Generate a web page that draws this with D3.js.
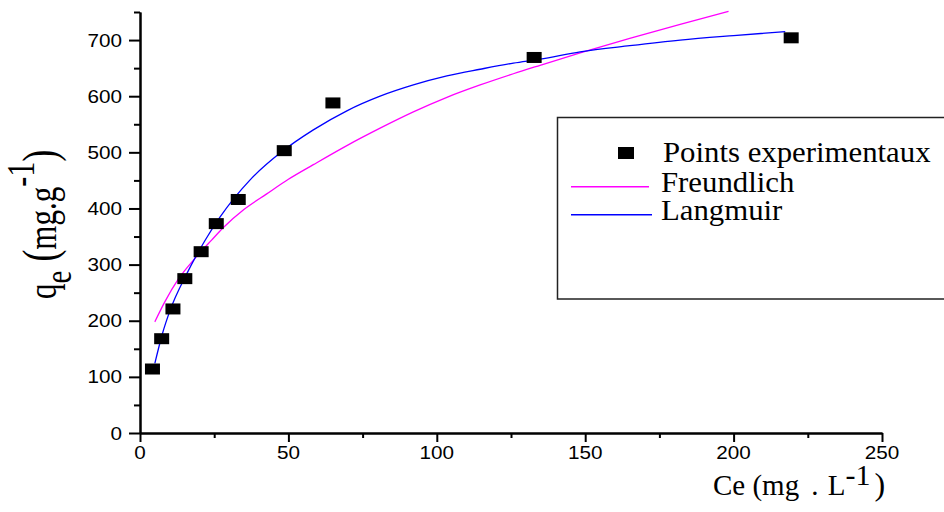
<!DOCTYPE html>
<html>
<head>
<meta charset="utf-8">
<script src="https://cdn.jsdelivr.net/npm/d3@7"></script>
<style>
  html, body { margin: 0; padding: 0; background: #fff; }
  svg { display: block; }
  .tick-label { font-family: "Liberation Sans", Arial, sans-serif; font-size: 18px; fill: #000; }
  .serif { font-family: "Liberation Serif", "Times New Roman", serif; fill: #000; }
</style>
</head>
<body>
<svg id="chart" width="944" height="512"></svg>
<script>
// Experimental adsorption points: equilibrium concentration (mg/L) and uptake (mg/g)
const ceExp = [4.2, 7.3, 11.1, 15.1, 20.6, 25.7, 33.1, 48.6, 65.0, 132.8, 219.4];
const qeExp = [114, 168, 221, 275, 323, 373, 416, 503, 588, 669, 704];

// Freundlich model curve
const freundlichCe = [5.0, 8.4, 12.9, 18.5, 24.2, 28.1, 35.0, 42.7, 50.0, 58.4, 69.7, 80.9, 92.1, 103.4, 114.6, 125.8, 134.8, 148.3, 165.0, 182.0, 198.3];
const freundlichQe = [198, 234, 274, 311, 344, 366, 398, 426, 452, 478, 512, 543, 572, 598, 620, 640, 655, 677, 703, 728, 751];

// Langmuir model curve
const langmuirCe = [5.0, 7.5, 10.1, 15.7, 21.9, 27.0, 37.1, 47.5, 58.4, 69.7, 80.9, 92.1, 103.4, 114.6, 125.8, 134.8, 148.3, 165.0, 182.0, 200.0, 217.4];
const langmuirQe = [124, 176, 218, 283, 343, 385, 451, 500, 540, 574, 600, 620, 636, 648, 659, 666, 679, 690, 700, 708, 715];

// Axis ticks
const xTicks = [0, 50, 100, 150, 200, 250];
const xMinorTicks = [25, 75, 125, 175, 225];
const yTicks = [0, 100, 200, 300, 400, 500, 600, 700];
const yMinorTicks = [50, 150, 250, 350, 450, 550, 650, 750];

const legendLabels = ["Points experimentaux", "Freundlich", "Langmuir"];
const freundlichColor = "#ff00ff";
const langmuirColor = "#0000ff";

const svg = d3.select("#chart");

const x = d3.scaleLinear().domain([0, 250]).range([140, 882]);
const y = d3.scaleLinear().domain([0, 750]).range([433, 12]);

// Curves
const line = d3.line()
  .x(d => x(d[0]))
  .y(d => y(d[1]))
  .curve(d3.curveMonotoneX);

const freundlich = freundlichCe.map((c, i) => [c, freundlichQe[i]]);
const langmuir = langmuirCe.map((c, i) => [c, langmuirQe[i]]);

svg.append("path").datum(freundlich)
  .attr("d", line).attr("fill", "none")
  .attr("stroke", freundlichColor).attr("stroke-width", 1.3);

svg.append("path").datum(langmuir)
  .attr("d", line).attr("fill", "none")
  .attr("stroke", langmuirColor).attr("stroke-width", 1.3);

// Experimental points
const pts = ceExp.map((c, i) => [c, qeExp[i]]);
svg.append("g").selectAll("rect").data(pts).join("rect")
  .attr("x", d => x(d[0]) - 7.5)
  .attr("y", d => y(d[1]) - 5.5)
  .attr("width", 15).attr("height", 11)
  .attr("fill", "#000");

// Axes
function styleAxis(g) {
  g.select(".domain").attr("stroke", "#000").attr("stroke-width", 2);
  g.selectAll(".tick line").attr("stroke", "#000").attr("stroke-width", 2);
  g.selectAll("text").remove();
}

svg.append("g").attr("transform", `translate(0,${y(0)})`)
  .call(d3.axisBottom(x).tickValues(xTicks).tickSize(9).tickSizeOuter(0))
  .call(styleAxis);
svg.append("g").attr("transform", `translate(0,${y(0)})`)
  .call(d3.axisBottom(x).tickValues(xMinorTicks).tickSize(5).tickSizeOuter(0))
  .call(styleAxis);
svg.append("g").attr("transform", `translate(${x(0)},0)`)
  .call(d3.axisLeft(y).tickValues(yTicks).tickSize(11).tickSizeOuter(0))
  .call(styleAxis);
svg.append("g").attr("transform", `translate(${x(0)},0)`)
  .call(d3.axisLeft(y).tickValues(yMinorTicks).tickSize(6).tickSizeOuter(0))
  .call(styleAxis);

// Tick labels (slightly wide lettering)
svg.append("g").selectAll("text").data(xTicks).join("text")
  .attr("class", "tick-label")
  .attr("text-anchor", "middle")
  .attr("transform", d => `translate(${x(d)},459) scale(1.15,1)`)
  .text(d => d);

svg.append("g").selectAll("text").data(yTicks).join("text")
  .attr("class", "tick-label")
  .attr("text-anchor", "end")
  .attr("transform", d => `translate(122,${y(d) + 6.5}) scale(1.15,1)`)
  .text(d => d);

// Axis titles
const xTitle = svg.append("text").attr("class", "serif")
  .attr("transform", "translate(713,495)")
  .style("font-size", "29px")
  .attr("xml:space", "preserve");
xTitle.append("tspan").text("Ce (mg");
xTitle.append("tspan").attr("dx", 12).text(". ");
xTitle.append("tspan").attr("dx", 2).text("L");
xTitle.append("tspan").attr("dy", -10).attr("dx", 0).style("font-size", "30px").text("-1");
xTitle.append("tspan").attr("dy", 10).attr("dx", 4).style("font-size", "32px").text(")");

const yTitle = svg.append("text").attr("class", "serif")
  .attr("transform", "translate(56,299) rotate(-90) scale(1,1.32)")
  .style("font-size", "31px")
  .attr("xml:space", "preserve");
yTitle.append("tspan").text("q");
yTitle.append("tspan").attr("dy", 11).style("font-size", "29px").text("e");
yTitle.append("tspan").attr("dy", -11).style("font-size", "36px").text(" (");
yTitle.append("tspan").text("mg.g");
yTitle.append("tspan").attr("dy", -17).style("font-size", "30px").text("-1");
yTitle.append("tspan").attr("dy", 17).style("font-size", "36px").text(")");

// Legend
const legend = svg.append("g");
legend.append("rect")
  .attr("x", 557.5).attr("y", 117.5)
  .attr("width", 400).attr("height", 181.5)
  .attr("fill", "none").attr("stroke", "#222").attr("stroke-width", 1.5);

legend.append("rect")
  .attr("x", 618).attr("y", 147).attr("width", 16).attr("height", 12)
  .attr("fill", "#000");
legend.append("line")
  .attr("x1", 571).attr("x2", 649).attr("y1", 186.7).attr("y2", 186.7)
  .attr("stroke", freundlichColor).attr("stroke-width", 1.5);
legend.append("line")
  .attr("x1", 571).attr("x2", 652).attr("y1", 214.7).attr("y2", 214.7)
  .attr("stroke", langmuirColor).attr("stroke-width", 1.5);

const legendRows = [[663, 161.5], [661, 191.5], [661, 220]];
legend.selectAll("text.lbl").data(legendLabels).join("text")
  .attr("class", "serif lbl")
  .style("font-size", "28.5px")
  .attr("transform", (d, i) => `translate(${legendRows[i][0]},${legendRows[i][1]}) scale(1.08,1)`)
  .text(d => d);
</script>
</body>
</html>
